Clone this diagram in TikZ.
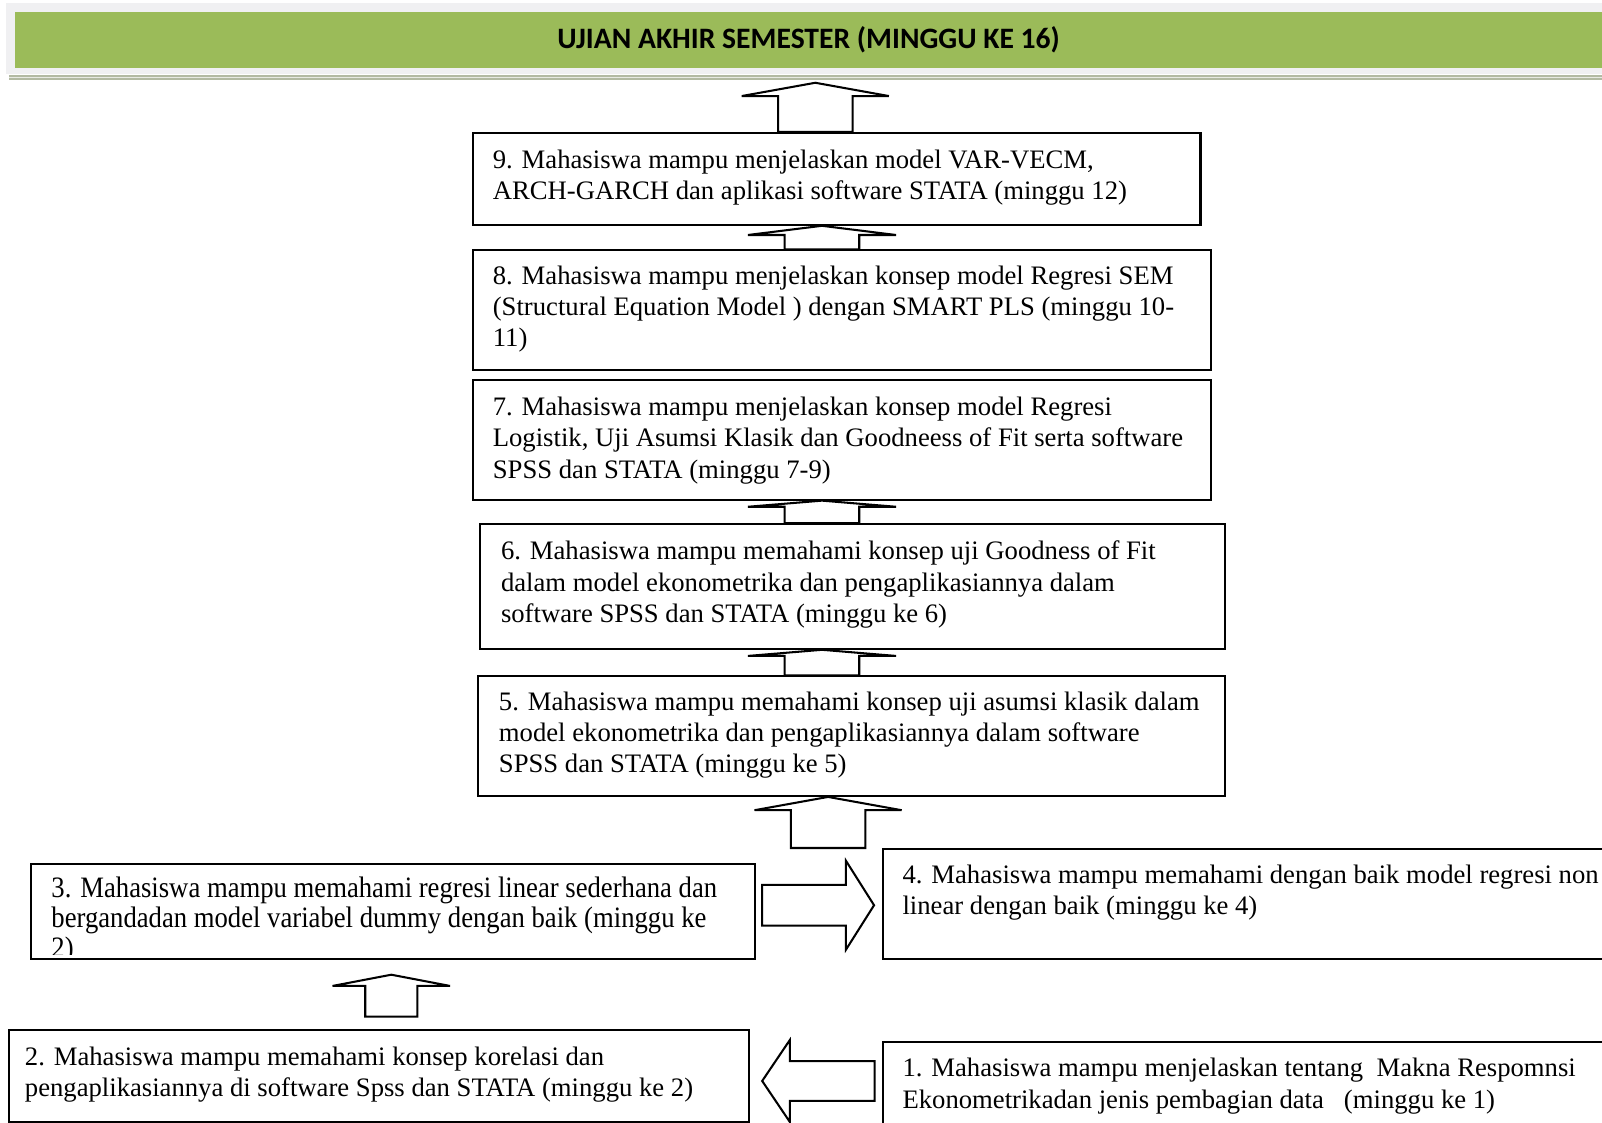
\documentclass[tikz,border=0pt]{standalone}
\usepackage{fontspec}
\setmainfont{Liberation Serif}
\newfontfamily\headfont{Carlito}
\newfontfamily\narrowfont[FakeStretch=0.9]{Liberation Serif}
\usetikzlibrary{calc}

\definecolor{hdrgreen}{HTML}{9BBB59}
\definecolor{hdrgray}{HTML}{F0F0F2}
\definecolor{hdrline}{HTML}{B3BAA3}

% block arrow pointing up: tip, tail, half shaft, half head, head length
\newcommand{\blockup}[5]{%
  \draw[blockline] ($(#2)+(-#3,0)$) -- ($(#1)+(-#3,#5)$) -- ($(#1)+(-#4,#5)$) -- (#1)
    -- ($(#1)+(#4,#5)$) -- ($(#1)+(#3,#5)$) -- ($(#2)+(#3,0)$) -- cycle;}
% block arrow pointing sideways: tip, tail, half shaft, half head, signed head length
\newcommand{\blockside}[5]{%
  \draw[blockline] ($(#2)+(0,-#3)$) -- ($(#1)+(#5,-#3)$) -- ($(#1)+(#5,-#4)$) -- (#1)
    -- ($(#1)+(#5,#4)$) -- ($(#1)+(#5,#3)$) -- ($(#2)+(0,#3)$) -- cycle;}

\begin{document}
\begin{tikzpicture}[x=0.5pt, y=-0.5pt,
    boxsize/.style 2 args={minimum width=#1*0.5pt, minimum height=#2*0.5pt},
    box/.style={draw, line width=1pt, rectangle, inner sep=0pt, anchor=north west},
    boxtext/.style={anchor=base west, inner sep=0pt, align=left,
      font=\fontsize{13.05}{15.25}\selectfont},
    blockline/.style={draw, line width=1pt, fill=white, line join=miter}]

    \useasboundingbox (0,0) rectangle (1568,1099);

    % ==========================================
    % HEADER
    % ==========================================
    \fill[hdrgray] (6,3) rectangle (1568,72);
    \fill[hdrline] (9,73.5) rectangle (1568,78.5);
    \draw[white!70!hdrline, line width=0.6pt] (9,76) -- (1568,76);
    \node[anchor=north west, fill=hdrgreen, inner sep=0pt, boxsize={1554}{55},
      font=\headfont\bfseries\fontsize{14.5}{16}\selectfont] (hdr) at (14,11)
      {UJIAN AKHIR SEMESTER (MINGGU KE 16)};

    % ==========================================
    % BOXES (top to bottom)
    % ==========================================
    \node[box, boxsize={712}{90}] (b9) at (462,129) {};
    \node[box, boxsize={722}{117}] (b8) at (462,244) {};
    \node[box, boxsize={722}{117}] (b7) at (462,371) {};
    \node[box, boxsize={729}{122}] (b6) at (469,512) {};
    \node[box, boxsize={731}{117}] (b5) at (467,661) {};
    \node[box, boxsize={709}{93}] (b3) at (29,845) {};
    \node[box, boxsize={760}{108}] (b4) at (863,830) {};
    \node[box, boxsize={724}{90}] (b2) at (8,1007) {};
    \node[box, boxsize={760}{120}] (b1) at (863,1019) {};

    % Texts inside the boxes (base = baseline of the last line)
    \node[boxtext] (t9) at ($(b9.north west)+(20,66.5)$)
      {9. Mahasiswa mampu menjelaskan model VAR-VECM,\\
       ARCH-GARCH dan aplikasi software STATA (minggu 12)};
    \node[boxtext] (t8) at ($(b8.north west)+(20,95.5)$)
      {8. Mahasiswa mampu menjelaskan konsep model Regresi SEM\\
       (Structural Equation Model ) dengan SMART PLS (minggu 10-\\
       11)};
    \node[boxtext] (t7) at ($(b7.north west)+(20,97)$)
      {7. Mahasiswa mampu menjelaskan konsep model Regresi\\
       Logistik, Uji Asumsi Klasik dan Goodneess of Fit serta software\\
       SPSS dan STATA (minggu 7-9)};
    \node[boxtext] (t6) at ($(b6.north west)+(21,97)$)
      {6. Mahasiswa mampu memahami konsep uji Goodness of Fit\\
       dalam model ekonometrika dan pengaplikasiannya dalam\\
       software SPSS dan STATA (minggu ke 6)};
    \node[boxtext] (t5) at ($(b5.north west)+(21,95.5)$)
      {5. Mahasiswa mampu memahami konsep uji asumsi klasik dalam\\
       model ekonometrika dan pengaplikasiannya dalam software\\
       SPSS dan STATA (minggu ke 5)};
    \begin{scope}
      \clip (b3.north west) rectangle ($(b3.south east)+(0,-6)$);
      \node[boxtext, font=\narrowfont\fontsize{14.5}{14.8}\selectfont] (t3)
        at ($(b3.north west)+(21,92.5)$)
        {3. Mahasiswa mampu memahami regresi linear sederhana dan\\
         bergandadan model variabel dummy dengan baik (minggu ke\\
         2)};
    \end{scope}
    \node[boxtext] (t4) at ($(b4.north west)+(20,65)$)
      {4. Mahasiswa mampu memahami dengan baik model regresi non\\
       linear dengan baik (minggu ke 4)};
    \node[boxtext] (t2) at ($(b2.north west)+(16,66)$)
      {2. Mahasiswa mampu memahami konsep korelasi dan\\
       pengaplikasiannya di software Spss dan STATA (minggu ke 2)};
    \node[boxtext] (t1) at ($(b1.north west)+(20,65.5)$)
      {1. Mahasiswa mampu menjelaskan tentang\ \ Makna Respomnsi\\
       Ekonometrikadan jenis pembagian data\ \ \ (minggu ke 1)};

    % ==========================================
    % BLOCK ARROWS
    % ==========================================
    \coordinate (toptip) at (798,81);
    \blockup{toptip}{798,0 |- b9.north}{36.5}{72}{13}
    \blockup{804.5,0 |- b9.south}{804.5,0 |- b8.north}{36.5}{72.5}{9}
    \blockup{804.5,0 |- b7.south}{804.5,0 |- b6.north}{36.5}{72.5}{6}
    \blockup{804.5,0 |- b6.south}{804.5,0 |- b5.north}{36.5}{72.5}{6}
    \blockup{810.5,0 |- b5.south}{810.5,0 |- b4.north}{36.5}{72}{13}
    \coordinate (up2tip) at ($(383,0 |- b3.south)+(0,14)$);
    \coordinate (up2tail) at ($(383,0 |- b2.north)+(0,-12)$);
    \blockup{up2tip}{up2tail}{25.5}{57.5}{11}
    \coordinate (r34tip) at ($(b4.west |- 0,886)+(-7.5,0)$);
    \coordinate (r34tail) at ($(b3.east |- 0,886)+(6,0)$);
    \blockside{r34tip}{r34tail}{20}{43.5}{-27.5}
    \coordinate (l12tip) at ($(b2.east |- 0,1058)+(12,0)$);
    \coordinate (l12tail) at ($(b1.west |- 0,1058)+(-7,0)$);
    \blockside{l12tip}{l12tail}{19.5}{40}{27}
\end{tikzpicture}
\end{document}
